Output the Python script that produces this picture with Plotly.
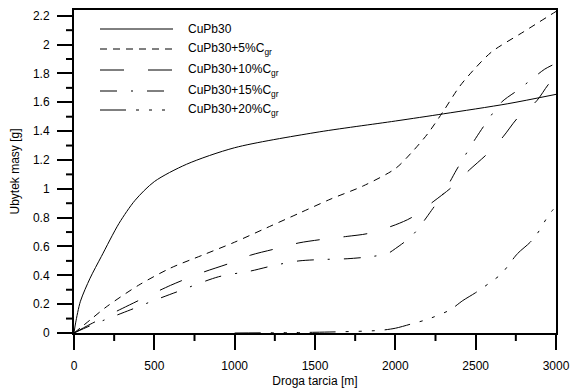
import plotly.graph_objects as go

# ---- data ----
x_cupb30 = [0, 10, 40, 100, 170, 280, 380, 500, 700, 1000, 1500, 2000, 2300, 2700, 3000]
y_cupb30 = [0, 0.07, 0.22, 0.38, 0.53, 0.76, 0.92, 1.05, 1.17, 1.285, 1.39, 1.47, 1.52, 1.59, 1.655]

x_c5 = [0, 100, 200, 400, 600, 800, 1000, 1200, 1400, 1600, 1800, 2000, 2100, 2200, 2300, 2400, 2500, 2600, 2800, 3000]
y_c5 = [0, 0.09, 0.18, 0.33, 0.45, 0.54, 0.63, 0.73, 0.83, 0.93, 1.02, 1.14, 1.25, 1.38, 1.54, 1.71, 1.84, 1.95, 2.09, 2.23]

x_c10 = [0, 100, 300, 600, 800, 960, 1100, 1240, 1400, 1550, 1700, 1830, 2000, 2100, 2235, 2350, 2460, 2570, 2670, 2760, 2880, 2950, 3000]
y_c10 = [0, 0.06, 0.17, 0.33, 0.42, 0.48, 0.54, 0.58, 0.625, 0.65, 0.67, 0.69, 0.75, 0.80, 0.91, 1.01, 1.13, 1.24, 1.36, 1.49, 1.61, 1.72, 1.78]

x_c15 = [0, 100, 200, 350, 485, 640, 900, 1100, 1250, 1400, 1550, 1700, 1850, 1950, 2000, 2100, 2160, 2225, 2300, 2380, 2450, 2500, 2560, 2660, 2770, 2860, 2930, 3000]
y_c15 = [0, 0.05, 0.095, 0.16, 0.22, 0.285, 0.39, 0.43, 0.47, 0.50, 0.51, 0.515, 0.53, 0.55, 0.585, 0.67, 0.75, 0.85, 0.97, 1.13, 1.26, 1.35, 1.45, 1.60, 1.69, 1.77, 1.83, 1.87]

x_c20 = [1000, 1500, 1900, 2000, 2100, 2200, 2340, 2420, 2500, 2590, 2660, 2760, 2840, 2890, 2950, 3000]
y_c20 = [0.0, 0.005, 0.018, 0.033, 0.063, 0.095, 0.16, 0.225, 0.28, 0.35, 0.41, 0.55, 0.63, 0.70, 0.81, 0.88]

x_major = [0, 500, 1000, 1500, 2000, 2500, 3000]
x_minor = [250, 750, 1250, 1750, 2250, 2750]
y_major = [0, 0.2, 0.4, 0.6, 0.8, 1, 1.2, 1.4, 1.6, 1.8, 2, 2.2]
y_labels = ["0", "0.2", "0.4", "0.6", "0.8", "1", "1.2", "1.4", "1.6", "1.8", "2", "2.2"]
y_minor = [0.1, 0.3, 0.5, 0.7, 0.9, 1.1, 1.3, 1.5, 1.7, 1.9, 2.1]

names = ["CuPb30", "CuPb30+5%C<sub>gr</sub>", "CuPb30+10%C<sub>gr</sub>",
         "CuPb30+15%C<sub>gr</sub>", "CuPb30+20%C<sub>gr</sub>"]
dashes = ["solid", "7px,6px", "24px,24px", "17px,14px,2px,14px",
          "26px,10px,3px,10px,3px,10px,3px,10px"]

series = [(x_cupb30, y_cupb30), (x_c5, y_c5), (x_c10, y_c10), (x_c15, y_c15), (x_c20, y_c20)]

W, H = 572, 388
ML, MR, MT, MB = 74, 16, 10, 55
PW, PH = W - ML - MR, H - MT - MB
X_RANGE = [0, 3000]
Y_RANGE = [0, 2.24]

FONT = "Liberation Sans, Arial, sans-serif"
tf = dict(family=FONT, size=12, color="black")

fig = go.Figure()
for (xs, ys), nm, d in zip(series, names, dashes):
    fig.add_trace(go.Scatter(x=xs, y=ys, mode="lines", name=nm, showlegend=False,
                             line=dict(color="black", width=1, dash=d, shape="spline", smoothing=0.8)))

def px2paper(px, py):
    return (px - ML) / PW, (H - MB - py) / PH

# legend (drawn manually to reproduce the long line samples)
legend_rows = [29, 49, 70, 91, 110]
for nm, d, py in zip(names, dashes, legend_rows):
    x0, yy = px2paper(100, py)
    x1, _ = px2paper(173, py)
    xt, _ = px2paper(186, py)
    fig.add_shape(type="line", xref="paper", yref="paper", x0=x0, x1=x1, y0=yy, y1=yy,
                  line=dict(color="black", width=1, dash=d))
    fig.add_annotation(xref="paper", yref="paper", x=xt, y=yy, text=nm, showarrow=False,
                       xanchor="left", yanchor="middle", font=tf)

# minor tick marks (outside, short)
def xfrac(v):
    return (v - X_RANGE[0]) / (X_RANGE[1] - X_RANGE[0])

def yfrac(v):
    return (v - Y_RANGE[0]) / (Y_RANGE[1] - Y_RANGE[0])

for v in x_minor:
    fig.add_shape(type="line", xref="paper", yref="paper", x0=xfrac(v), x1=xfrac(v),
                  y0=0, y1=-8 / PH, line=dict(color="black", width=2))
for v in y_minor:
    fig.add_shape(type="line", xref="paper", yref="paper", y0=yfrac(v), y1=yfrac(v),
                  x0=0, x1=-8 / PW, line=dict(color="black", width=2))

fig.update_layout(
    width=W, height=H,
    margin=dict(l=ML, r=MR, t=MT, b=MB),
    paper_bgcolor="white", plot_bgcolor="white",
    xaxis=dict(range=X_RANGE, tickmode="array", tickvals=x_major, automargin=False,
               showline=True, linecolor="black", linewidth=2, mirror=True,
               ticks="outside", ticklen=15, tickwidth=2, tickcolor="black",
               showgrid=False, zeroline=False, tickfont=tf, ticklabelstandoff=6,
               title=dict(text="Droga tarcia [m]", font=tf, standoff=5)),
    yaxis=dict(range=Y_RANGE, tickmode="array", tickvals=y_major, ticktext=y_labels, automargin=False,
               showline=True, linecolor="black", linewidth=2, mirror=True,
               ticks="outside", ticklen=15, tickwidth=2, tickcolor="black",
               showgrid=False, zeroline=False, tickfont=tf, ticklabelstandoff=5,
               title=dict(text="Ubytek masy [g]", font=tf, standoff=11)),
)

fig.write_html("out.html")
